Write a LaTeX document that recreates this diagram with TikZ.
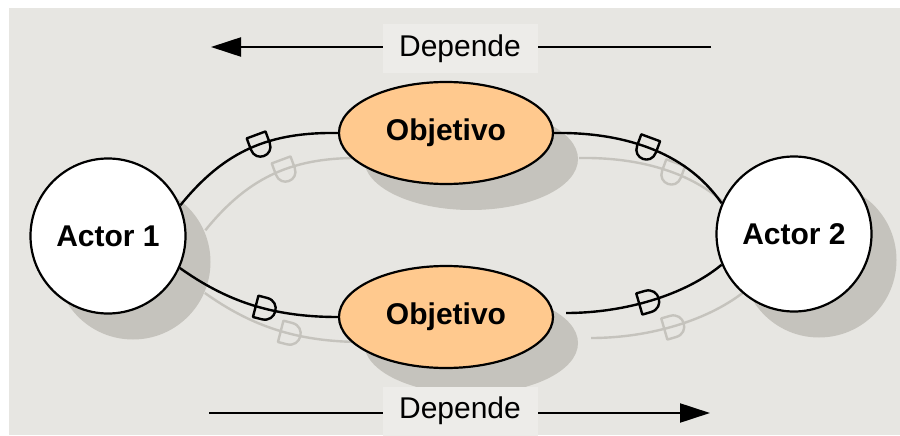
\documentclass[tikz,border=0pt]{standalone}
\usepackage{fontspec}
\setmainfont{Liberation Sans}
\usetikzlibrary{shapes.geometric,shadows,arrows.meta,decorations.markings}
\definecolor{bgcol}{HTML}{E7E6E2}
\definecolor{boxcol}{HTML}{EDECE9}
\definecolor{shade}{HTML}{C5C3BD}
\definecolor{goalcol}{HTML}{FFC98E}
\pgfdeclarelayer{bg}
\pgfdeclarelayer{shadow}
\pgfsetlayers{bg,shadow,main}
\tikzset{
  actor/.style={circle, draw, line width=2.2pt, fill=white, minimum size=155pt, inner sep=0pt,
    font=\fontsize{30}{36}\selectfont\bfseries,
    drop shadow={shadow xshift=25pt, shadow yshift=-26pt, fill=shade, opacity=1}},
  goal/.style={ellipse, draw, line width=2.2pt, fill=goalcol, minimum width=214pt, minimum height=102pt,
    inner sep=0pt, font=\fontsize{30}{36}\selectfont\bfseries,
    drop shadow={shadow xshift=25pt, shadow yshift=-26pt, fill=shade, opacity=1}},
  link/.style={line width=2.4pt},
  dtop/.style={postaction={decorate}, decoration={markings, mark=at position #1 with
    {\draw[line width=2.4pt, line join=round] (-10,-10) -- (10,-10) -- (10,2) .. controls (10,16) and (-10,16) .. (-10,2) -- cycle;}}},
  dtop/.default=0.5,
  dside/.style={postaction={decorate}, decoration={markings, mark=at position #1 with
    {\draw[line width=2.4pt, line join=round] (0,-11) -- (-9,-11) -- (-9,11) -- (0,11) .. controls (15,11) and (15,-11) .. (0,-11) -- cycle;}}},
  dside/.default=0.5,
  lbl/.style={fill=boxcol, minimum width=155pt, minimum height=49pt, inner sep=0pt,
    font=\fontsize{30}{36}\selectfont},
  dep/.style={line width=2.2pt, -{Triangle[length=30pt, width=19pt]}}
}
% the four dependency links, drawn twice (shadow and line)
\newcommand{\links}{
  \draw[link,dtop=0.56] (a1.23) .. controls (225,150) and (270,132) .. (o1.west);
  \draw[link,dtop=0.5] (o1.east) .. controls (620,132) and (685,150) .. (a2.157);
  \draw[link,dside=0.56] (a1.-24) .. controls (225,300) and (270,317) .. (o2.west);
  \draw[link,dside=0.5] (o2r) .. controls (625,313) and (685,295) .. (a2.-157);
}

\begin{document}
\begin{tikzpicture}[x=1pt,y=-1pt]
  \useasboundingbox (0,0) rectangle (900,436);
  \begin{pgfonlayer}{bg}
    \fill[white] (0,0) rectangle (900,436);
    \fill[bgcol] (9,8) rectangle (900,435);
  \end{pgfonlayer}
  % actors
  \node[actor] (a1) at (108,236) {Actor 1};
  \node[actor] (a2) at (794,234) {Actor 2};
  % goals
  \node[goal] (o1) at (446,133) {Objetivo};
  \node[goal] (o2) at (446,317) {Objetivo};
  \coordinate (o2r) at ([xshift=12pt,yshift=4pt]o2.east);
  % shadow of the links
  \begin{pgfonlayer}{shadow}
    \begin{scope}[transform canvas={shift={(25,25)}}, color=shade]
      \links
    \end{scope}
  \end{pgfonlayer}
  % links
  \links
  % direction arrows
  \coordinate (tr) at (711,47);
  \coordinate (tl) at (211,47);
  \coordinate (bl) at (209,413);
  \coordinate (br) at (710,413);
  \draw[dep] (tr) -- (tl);
  \draw[dep] (bl) -- (br);
  \node[lbl] (dtop) at (460,48.5) {Depende};
  \node[lbl] (dbot) at (460,411) {Depende};
\end{tikzpicture}
\end{document}
